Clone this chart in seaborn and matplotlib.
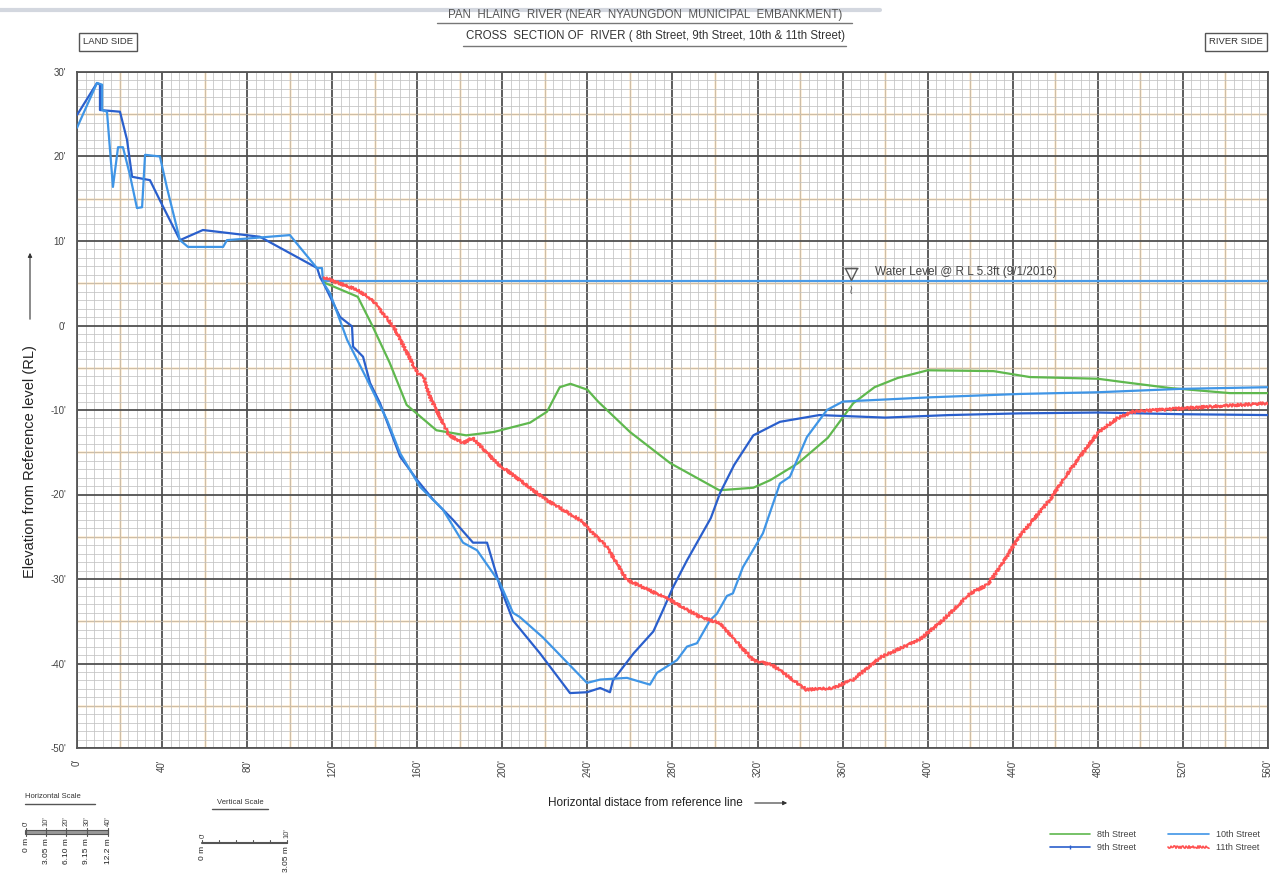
import numpy as np
import pandas as pd
import matplotlib
matplotlib.use("Agg")
import matplotlib.pyplot as plt
import seaborn as sns
from matplotlib.lines import Line2D
from matplotlib.patches import Rectangle, FancyArrowPatch

sns.set_style("white")
plt.rcParams['font.family'] = ['Liberation Sans', 'DejaVu Sans']

# ---------------- data (feet) ----------------
x_8th = [116, 132, 139, 147, 155, 169, 183, 196, 213, 221, 227, 232, 240, 245, 260, 279, 302, 318,
         326, 339, 353, 365, 375, 386, 400, 431, 448, 480, 492, 514, 542, 560]
y_8th = [5.1, 3.4, -0.1, -4.4, -9.4, -12.4, -13.0, -12.6, -11.5, -10.2, -7.3, -6.9, -7.6, -9.0, -12.6,
         -16.3, -19.5, -19.2, -18.3, -16.3, -13.3, -9.2, -7.3, -6.2, -5.3, -5.4, -6.1, -6.3, -6.7, -7.4,
         -8.0, -8.0]

x_9th = [0, 9.4, 10.8, 10.8, 20.2, 23.5, 25.9, 34.3, 39, 48.4, 59.2, 86, 112.9, 114.3, 115.7, 123.7,
         129.3, 129.8, 134.5, 137.8, 142.5, 151.9, 160, 167.4, 176.8, 186.2, 192.8, 198.9, 205, 217.7,
         231.8, 239.8, 246, 250.6, 252, 261.7, 271, 275.5, 280.2, 286.8, 298, 302.4, 309, 318, 330.5,
         349, 380, 410, 443, 480, 520, 560]
y_9th = [24.9, 28.7, 28.5, 25.5, 25.3, 22.0, 17.6, 17.2, 14.8, 10.1, 11.3, 10.5, 6.8, 5.7, 5.1, 1.0,
         -0.1, -2.5, -3.7, -6.8, -9.2, -15.5, -18.3, -20.6, -23.0, -25.7, -25.7, -30.9, -34.9, -38.8,
         -43.5, -43.4, -42.9, -43.4, -42.0, -38.8, -36.2, -33.7, -31.0, -27.8, -22.8, -19.8, -16.5,
         -13.0, -11.4, -10.6, -10.9, -10.6, -10.4, -10.3, -10.5, -10.6]

x_10th = [0, 9.4, 11.8, 11.8, 14.1, 16.9, 19.3, 21.6, 24.9, 28.2, 30.6, 32, 39, 42.3, 48.4, 52.2, 68.7,
          70.5, 100.1, 112.8, 115.2, 115.7, 119, 127, 136.4, 145.8, 151.9, 161.3, 172.1, 181.5, 188.1,
          198.9, 205, 208.2, 219, 239.8, 246, 258.6, 269.4, 272.7, 282.1, 286.8, 291.5, 297.6, 300.9,
          305.6, 308.4, 313.1, 322.5, 330.5, 335.2, 343.2, 352.6, 360.1, 401, 443.4, 480, 519, 560]
y_10th = [23.4, 28.7, 28.5, 25.5, 25.3, 16.4, 21.1, 21.1, 17.8, 13.9, 14.0, 20.2, 20.0, 16.3, 10.1,
          9.3, 9.3, 10.1, 10.7, 6.8, 6.8, 5.1, 3.8, -1.7, -6.4, -11.2, -15.1, -19.1, -21.8, -25.7,
          -26.6, -30.5, -34.0, -34.5, -36.9, -42.3, -41.9, -41.7, -42.5, -41.1, -39.6, -38.0, -37.6,
          -34.9, -34.1, -32.0, -31.7, -28.6, -24.6, -18.7, -17.9, -13.2, -10.0, -9.0, -8.5, -8.1,
          -7.9, -7.5, -7.3]

x_11th = [116, 132, 139, 149, 160, 163, 166, 175, 181.5, 186, 197.5, 221, 236.5, 249, 258.6, 279,
          293, 302, 318, 327, 343, 355.5, 365, 377.6, 396, 407, 420, 428, 434, 443, 457.5, 467, 480,
          489, 496.5, 520, 560]
y_11th = [5.7, 4.2, 3.0, -0.2, -5.6, -6.1, -8.5, -13.0, -13.9, -13.3, -16.3, -20.7, -23.0, -26.2,
          -30.1, -32.5, -34.5, -35.2, -39.6, -40.2, -43.1, -42.9, -41.9, -39.3, -37.2, -34.9, -31.7,
          -30.7, -28.6, -25.0, -20.6, -17.1, -12.7, -11.0, -10.2, -9.8, -9.2]

series_names = ["8th Street", "9th Street", "10th Street", "11th Street"]
series_colors = ["#5fb84e", "#2a5fcc", "#3f95e6", "#ff5252"]

water_level = 5.3
water_x = [115, 560]
water_label = "Water Level @ R L 5.3ft (9/1/2016)"

x_ticks = list(range(0, 561, 40))
y_ticks = list(range(-50, 31, 10))
x_ticklabels = [f"{v}'" for v in x_ticks]
y_ticklabels = [f"{v}'" for v in y_ticks]

# ---------------- figure ----------------
W, H = 1275, 875
fig = plt.figure(figsize=(W / 100, H / 100), dpi=100)
fig.patch.set_facecolor("white")


def fx(px):
    return px / W


def fy(py):
    return 1 - py / H


# faint scanner shadow along the top edge
fig.add_artist(Line2D([0, fx(880)], [fy(10), fy(10)], color="#c9ced8", lw=3, alpha=0.8))

ax = fig.add_axes([fx(77), fy(748), fx(1268) - fx(77), fy(72) - fy(748)])
ax.set_xlim(0, 560)
ax.set_ylim(-50, 30)

# graph-paper grid
ax.set_xticks(x_ticks)
ax.set_yticks(y_ticks)
ax.set_xticks(np.arange(0, 561, 4), minor=True)
ax.set_yticks(np.arange(-50, 31, 1), minor=True)
ax.grid(which="minor", color="#c2c2c2", lw=0.55, zorder=0)
for xv in np.arange(20, 560, 40):
    ax.axvline(xv, color="#f2b04e", lw=1.0, zorder=0.5)
for yv in np.arange(-45, 30, 10):
    ax.axhline(yv, color="#f2b04e", lw=1.0, zorder=0.5)
ax.grid(which="major", color="#505050", lw=1.3, zorder=0.8)
ax.set_axisbelow(True)

for s in ax.spines.values():
    s.set_color("#555555")
    s.set_linewidth(1.3)

ax.set_xticklabels(x_ticklabels, rotation=90, fontsize=7, color="#444444")
ax.set_yticklabels(y_ticklabels, fontsize=7, color="#444444")
ax.tick_params(which="major", length=5, width=1, color="#555555", pad=3)
ax.tick_params(which="minor", length=0)
ax.set_xlabel("")
ax.set_ylabel("")

# water level
ax.hlines(water_level, water_x[0], water_x[1], color="#4a9be8", lw=1.6, zorder=3)
ax.plot([364], [water_level + 0.85], marker="v", ms=9, mfc="none", mec="#555555", mew=1.0, zorder=4)
ax.plot([364], [water_level + 1.45], marker="_", ms=10, mec="#555555", mew=1.0, zorder=4)
ax.text(364, water_level - 1.1, "≀", fontsize=9, color="#666666", ha="center", va="center",
        family=["DejaVu Sans"], zorder=4)
ax.text(375, water_level + 1.0, water_label, fontsize=8.5, color="#444444", va="center", ha="left",
        zorder=4)

# cross sections
all_x = [x_8th, x_9th, x_10th, x_11th]
all_y = [y_8th, y_9th, y_10th, y_11th]
for xs, ys, name, col in zip(all_x, all_y, series_names, series_colors):
    sns.lineplot(x=xs, y=ys, ax=ax, sort=False, estimator=None, color=col, lw=1.6, zorder=5)
    if name == "11th Street":
        ax.lines[-1].set_sketch_params(scale=1.3, length=3, randomness=2)

# ---------------- texts around ----------------
fig.text(fx(645), fy(15), "PAN  HLAING  RIVER (NEAR  NYAUNGDON  MUNICIPAL  EMBANKMENT)",
         fontsize=8.3, color="#555555", ha="center", va="center")
fig.add_artist(Line2D([fx(437), fx(852)], [fy(23), fy(23)], color="#777777", lw=1))
fig.text(fx(656), fy(36), "CROSS  SECTION OF  RIVER ( 8th Street, 9th Street, 10th & 11th Street)",
         fontsize=8.3, color="#333333", ha="center", va="center")
fig.add_artist(Line2D([fx(463), fx(846)], [fy(46), fy(46)], color="#777777", lw=1))

for label, cx in [("LAND SIDE", 108), ("RIVER SIDE", 1236)]:
    fig.text(fx(cx), fy(42), label, fontsize=6.8, color="#333333", ha="center", va="center",
             bbox=dict(boxstyle="square,pad=0.45", fc="white", ec="#555555", lw=1))

fig.text(fx(30), fy(462), "Elevation from Reference level (RL)", rotation=90, fontsize=10.5,
         color="#222222", ha="center", va="center")
fig.add_artist(FancyArrowPatch((fx(30), fy(322)), (fx(30), fy(250)),
                               transform=fig.transFigure, arrowstyle="-|>",
                               mutation_scale=6, color="#333333", lw=0.8))
fig.text(fx(645), fy(803), "Horizontal distace from reference line", fontsize=8.5,
         color="#222222", ha="center", va="center")
fig.add_artist(FancyArrowPatch((fx(752), fy(803)), (fx(790), fy(803)),
                               transform=fig.transFigure, arrowstyle="-|>",
                               mutation_scale=6, color="#333333", lw=0.8))

# legend
handles = []
for name, col in zip(series_names, series_colors):
    if name == "9th Street":
        h = Line2D([0, 1], [0, 0], color=col, lw=1.2, marker="|", ms=3, markevery=[1])
    else:
        h = Line2D([], [], color=col, lw=1.2)
    handles.append(h)
leg = ax.legend(handles, series_names, ncol=2, loc="upper right",
                bbox_to_anchor=(fx(1268), fy(822)), bbox_transform=fig.transFigure, frameon=False,
                fontsize=6.5, handlelength=4.5, columnspacing=3.5, labelspacing=0.4,
                labelcolor="#444444")
leg.get_lines()[3].set_sketch_params(scale=1.3, length=3, randomness=2)

# scale bars
fig.text(fx(25), fy(797), "Horizontal Scale", fontsize=5.5, color="#333333", ha="left", va="center")
fig.add_artist(Line2D([fx(25), fx(95)], [fy(804), fy(804)], color="#555555", lw=1))
fig.add_artist(Rectangle((fx(25), fy(834)), fx(108) - fx(25), fy(830) - fy(834),
                         transform=fig.transFigure, fc="#999999", ec="#555555", lw=0.8))
for px, ft, m in zip([26, 46, 66, 87, 108], ["0'", "10'", "20'", "30'", "40'"],
                     ["0 m", "3.05 m", "6.10 m", "9.15 m", "12.2 m"]):
    fig.add_artist(Line2D([fx(px), fx(px)], [fy(828), fy(836)], color="#555555", lw=0.8))
    fig.text(fx(px), fy(826), ft, rotation=90, fontsize=5.5, color="#444444", ha="center", va="bottom")
    fig.text(fx(px), fy(838), m, rotation=90, fontsize=6, color="#222222", ha="center", va="top")

fig.text(fx(240), fy(802), "Vertical Scale", fontsize=5.5, color="#333333", ha="center", va="center")
fig.add_artist(Line2D([fx(212), fx(268)], [fy(809), fy(809)], color="#555555", lw=1))
fig.add_artist(Line2D([fx(202), fx(287)], [fy(843), fy(843)], color="#555555", lw=1.5))
for px in np.linspace(202, 287, 6):
    fig.add_artist(Line2D([fx(px), fx(px)], [fy(843), fy(840)], color="#555555", lw=0.8))
fig.text(fx(203), fy(838), "0'", rotation=90, fontsize=5.5, color="#444444", ha="center", va="bottom")
fig.text(fx(287), fy(838), "10'", rotation=90, fontsize=5.5, color="#444444", ha="center", va="bottom")
fig.text(fx(203), fy(846), "0 m", rotation=90, fontsize=6, color="#222222", ha="center", va="top")
fig.text(fx(287), fy(846), "3.05 m", rotation=90, fontsize=6, color="#222222", ha="center", va="top")

fig.savefig("out.png", dpi=100, facecolor="white")
